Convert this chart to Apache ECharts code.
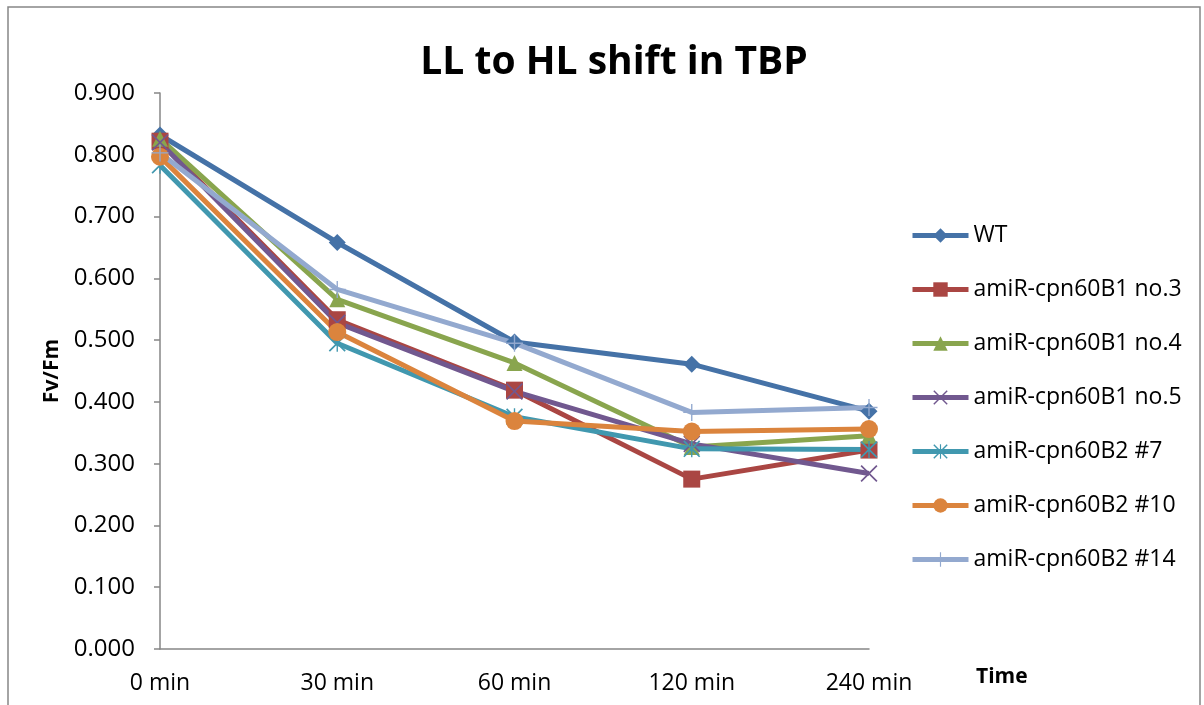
<!DOCTYPE html>
<html>
<head>
<meta charset="utf-8">
<title>LL to HL shift in TBP</title>
<script src="https://cdn.jsdelivr.net/npm/echarts@6/dist/echarts.min.js"></script>
<style>
  html, body { margin: 0; padding: 0; background: #ffffff; }
  #chart { width: 1204px; height: 705px; }
</style>
</head>
<body>
<div id="chart"></div>
<script>
// Sampling times after the low-light to high-light shift
const timePoints = ['0 min', '30 min', '60 min', '120 min', '240 min'];

// Fv/Fm per line
const wt        = [0.832, 0.658, 0.497, 0.461, 0.385];
const b1no3     = [0.822, 0.533, 0.419, 0.275, 0.322];
const b1no4     = [0.826, 0.566, 0.463, 0.327, 0.345];
const b1no5     = [0.820, 0.528, 0.417, 0.332, 0.284];
const b2no7     = [0.783, 0.495, 0.376, 0.324, 0.323];
const b2no10    = [0.797, 0.513, 0.369, 0.352, 0.356];
const b2no14    = [0.803, 0.582, 0.495, 0.383, 0.391];

const seriesNames = [
  'WT',
  'amiR-cpn60B1 no.3',
  'amiR-cpn60B1 no.4',
  'amiR-cpn60B1 no.5',
  'amiR-cpn60B2 #7',
  'amiR-cpn60B2 #10',
  'amiR-cpn60B2 #14'
];
const seriesData = [wt, b1no3, b1no4, b1no5, b2no7, b2no10, b2no14];

// Marker shapes
const xMark = 'path://M0,1.4L1.4,0L10,8.6L18.6,0L20,1.4L11.4,10L20,18.6L18.6,20L10,11.4L1.4,20L0,18.6L8.6,10Z';
const starMark = xMark + 'M9.2,0L10.8,0L10.8,20L9.2,20Z';
const plusMark = 'path://M9.2,0L10.8,0L10.8,9.2L20,9.2L20,10.8L10.8,10.8L10.8,20L9.2,20L9.2,10.8L0,10.8L0,9.2L9.2,9.2Z';

const styles = [
  { color: '#4572A7', symbol: 'diamond', size: 17 },
  { color: '#AA4643', symbol: 'rect', size: 17 },
  { color: '#89A54E', symbol: 'triangle', size: 16 },
  { color: '#71588F', symbol: xMark, size: 17 },
  { color: '#4198AF', symbol: starMark, size: 17 },
  { color: '#DB843D', symbol: 'circle', size: 18 },
  { color: '#93A9CF', symbol: plusMark, size: 17 }
];

const fontFamily = '"Open Sans", "Liberation Sans", sans-serif';
const axisGray = '#868686';

const chart = echarts.init(document.getElementById('chart'), null, { renderer: 'canvas' });

chart.setOption({
  animation: false,
  backgroundColor: '#ffffff',
  title: {
    text: 'LL to HL shift in TBP',
    left: 609,
    top: 38,
    textAlign: 'center',
    textStyle: { fontFamily, fontSize: 39, fontWeight: 'bold', color: '#000000' }
  },
  graphic: [
    {
      type: 'rect',
      shape: { x: 8, y: 7, width: 1192, height: 720 },
      style: { fill: 'none', stroke: axisGray, lineWidth: 1.5 },
      silent: true
    },
    {
      type: 'text',
      left: 976,
      top: 667,
      style: { text: 'Time', fontFamily, fontSize: 21, fontWeight: 'bold', fill: '#000000' }
    }
  ],
  legend: {
    orient: 'vertical',
    left: 910,
    top: 224,
    padding: 0,
    itemWidth: 56,
    itemHeight: 18,
    itemGap: 31,
    lineStyle: { width: 5 },
    textStyle: { fontFamily, fontSize: 23, color: '#000000' },
    data: seriesNames
  },
  grid: { left: 160, right: 335, top: 93, bottom: 56, containLabel: false },
  xAxis: {
    type: 'category',
    data: timePoints,
    boundaryGap: false,
    axisLine: { lineStyle: { color: axisGray, width: 1.5 } },
    axisTick: { show: false },
    axisLabel: { margin: 23, fontFamily, fontSize: 23, color: '#000000' },
    splitLine: { show: false }
  },
  yAxis: {
    type: 'value',
    min: 0,
    max: 0.9,
    interval: 0.1,
    name: 'Fv/Fm',
    nameLocation: 'middle',
    nameRotate: 90,
    nameGap: 95,
    nameTextStyle: { fontFamily, fontSize: 21, fontWeight: 'bold', color: '#000000' },
    axisLine: { show: true, lineStyle: { color: axisGray, width: 1.5 } },
    axisTick: { show: true, length: 6, lineStyle: { color: axisGray, width: 1.5 } },
    axisLabel: {
      margin: 25,
      fontFamily,
      fontSize: 24,
      color: '#000000',
      formatter: v => v.toFixed(3)
    },
    splitLine: { show: false }
  },
  series: seriesNames.map((name, i) => ({
    name,
    type: 'line',
    data: seriesData[i],
    symbol: styles[i].symbol,
    symbolSize: styles[i].size,
    showAllSymbol: true,
    color: styles[i].color,
    lineStyle: { color: styles[i].color, width: 5 },
    itemStyle: { color: styles[i].color },
    emphasis: { disabled: true }
  }))
});
</script>
</body>
</html>
